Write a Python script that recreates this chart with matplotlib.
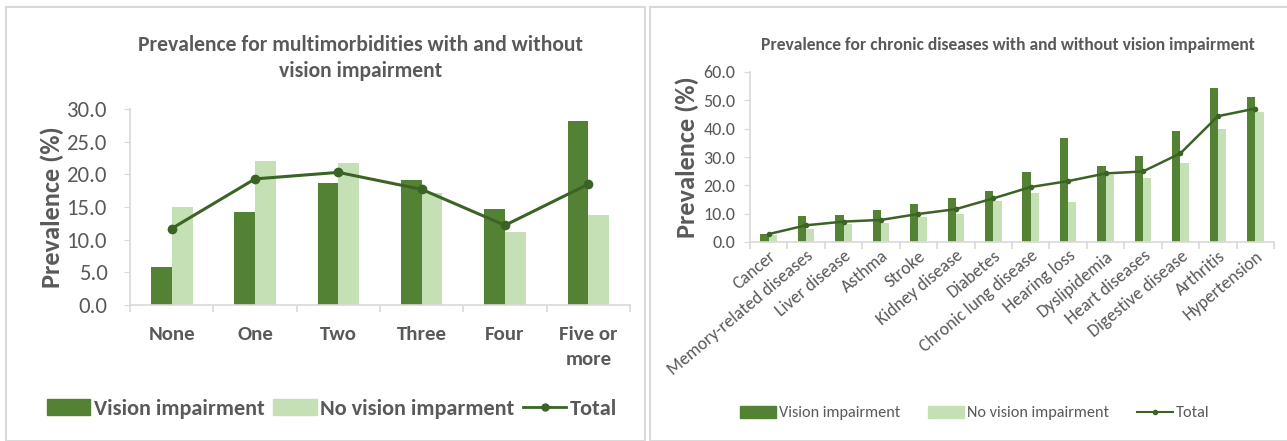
import numpy as np
import matplotlib
matplotlib.use('Agg')
import matplotlib.pyplot as plt
from matplotlib.patches import Rectangle
from matplotlib.lines import Line2D

plt.rcParams['font.family'] = ['Carlito', 'DejaVu Sans']

# left chart data
multi_cats = ['None', 'One', 'Two', 'Three', 'Four', 'Five or\nmore']
multi_vi = [5.8, 14.3, 18.7, 19.2, 14.7, 28.1]
multi_nvi = [15.0, 22.0, 21.7, 17.2, 11.2, 13.7]
multi_total = [11.7, 19.3, 20.3, 17.7, 12.2, 18.5]

# right chart data
dis_cats = ['Cancer', 'Memory-related diseases', 'Liver disease', 'Asthma', 'Stroke',
            'Kidney disease', 'Diabetes', 'Chronic lung disease', 'Hearing loss',
            'Dyslipidemia', 'Heart diseases', 'Digestive disease', 'Arthritis', 'Hypertension']
dis_vi = [2.9, 9.2, 9.5, 11.2, 13.3, 15.6, 18.0, 24.8, 36.8, 26.9, 30.4, 39.2, 54.2, 51.3]
dis_nvi = [2.5, 4.6, 6.5, 6.7, 8.9, 9.9, 14.4, 17.3, 14.0, 23.6, 22.6, 28.0, 39.9, 45.9]
dis_total = [2.8, 5.9, 7.2, 7.8, 9.9, 11.6, 15.4, 19.4, 21.5, 24.2, 24.9, 31.3, 44.4, 47.1]

DARK = '#548235'
LIGHT = '#c5e0b4'
LINE = '#3b6326'
TXT = '#595959'
GRID = '#d9d9d9'

W, H = 1287, 441
fig = plt.figure(figsize=(W / 100, H / 100), dpi=100)

# panel frames
fig.patches.append(Rectangle((6 / W, 0), (645 - 6) / W, (H - 7) / H, transform=fig.transFigure,
                             fill=False, edgecolor=GRID, linewidth=1.5))
fig.patches.append(Rectangle((650 / W, 0), (1290 - 650) / W, (H - 7) / H, transform=fig.transFigure,
                             fill=False, edgecolor=GRID, linewidth=1.5))


def style_axes(ax, n, ymax, step, tick_fs, pad):
    for s in ['top', 'right']:
        ax.spines[s].set_visible(False)
    for s in ['left', 'bottom']:
        ax.spines[s].set_color(GRID)
        ax.spines[s].set_linewidth(1.2)
    ax.set_xlim(-0.5, n - 0.5)
    ax.set_ylim(0, ymax)
    ax.set_yticks(np.arange(0, ymax + 0.1, step))
    ax.set_yticklabels(['%.1f' % v for v in np.arange(0, ymax + 0.1, step)])
    ax.tick_params(axis='y', colors=GRID, labelcolor=TXT, labelsize=tick_fs, length=4, pad=pad)
    ax.set_xticks(np.arange(-0.5, n, 1.0), minor=True)
    ax.tick_params(axis='x', which='minor', length=5, color=GRID, width=1.2)
    ax.tick_params(axis='x', which='major', length=0)


# ---- left chart
ax1 = fig.add_axes([130 / W, 1 - 305 / H, 500 / W, 196 / H])
x = np.arange(len(multi_cats))
bw = 0.25
ax1.bar(x - bw / 2, multi_vi, bw, color=DARK, zorder=2)
ax1.bar(x + bw / 2, multi_nvi, bw, color=LIGHT, zorder=2)
ax1.plot(x, multi_total, color=LINE, linewidth=2.2, marker='o', markersize=6, zorder=3)
style_axes(ax1, len(multi_cats), 30, 5, 16.4, 12)
ax1.set_xticks(x)
ax1.set_xticklabels(multi_cats, fontsize=15, fontweight='bold', color=TXT, linespacing=1.6)
ax1.tick_params(axis='x', which='major', pad=15)
ax1.set_ylabel('Prevalence (%)', fontsize=19, fontweight='bold', color=TXT, labelpad=2)
fig.text(361 / W, 1 - 58 / H, 'Prevalence for multimorbidities with and without\nvision impairment',
         ha='center', va='center', fontsize=15.6, fontweight='bold', color=TXT, linespacing=1.4)

h1 = [Rectangle((0, 0), 1, 1, color=DARK), Rectangle((0, 0), 1, 1, color=LIGHT),
      Line2D([], [], color=LINE, linewidth=2, marker='o', markersize=5)]
fig.legend(h1, ['Vision impairment', 'No vision imparment', 'Total'], loc='center',
           bbox_to_anchor=(332 / W, 1 - 409 / H), ncol=3, frameon=False,
           prop={'size': 16, 'weight': 'bold'}, labelcolor=TXT, handlelength=1.95,
           handleheight=0.75, handletextpad=0.15, columnspacing=0.4)

# ---- right chart
ax2 = fig.add_axes([750 / W, 1 - 242 / H, 524 / W, 170 / H])
x2 = np.arange(len(dis_cats))
bw2 = 0.22
ax2.bar(x2 - bw2 / 2, dis_vi, bw2, color=DARK, zorder=2)
ax2.bar(x2 + bw2 / 2, dis_nvi, bw2, color=LIGHT, zorder=2)
ax2.plot(x2, dis_total, color=LINE, linewidth=1.8, marker='o', markersize=3, zorder=3)
style_axes(ax2, len(dis_cats), 60, 10, 13, 6.5)
ax2.set_xticks(x2)
ax2.set_xticklabels(dis_cats, fontsize=12.8, color=TXT, rotation=40, ha='right',
                    rotation_mode='anchor')
ax2.tick_params(axis='x', which='major', pad=4)
ax2.set_ylabel('Prevalence (%)', fontsize=19, fontweight='bold', color=TXT, labelpad=3)
fig.text(1008 / W, 1 - 45 / H, 'Prevalence for chronic diseases with and without vision impairment',
         ha='center', va='center', fontsize=12.6, fontweight='bold', color=TXT)

h2 = [Rectangle((0, 0), 1, 1, color=DARK), Rectangle((0, 0), 1, 1, color=LIGHT),
      Line2D([], [], color=LINE, linewidth=1.5, marker='o', markersize=3)]
fig.legend(h2, ['Vision impairment', 'No vision impairment', 'Total'], loc='center',
           bbox_to_anchor=(975 / W, 1 - 413 / H), ncol=3, frameon=False,
           prop={'size': 11.7}, labelcolor=TXT, handlelength=2.2,
           handleheight=0.8, handletextpad=0.2, columnspacing=1.7)

fig.savefig('out.png', dpi=100)
